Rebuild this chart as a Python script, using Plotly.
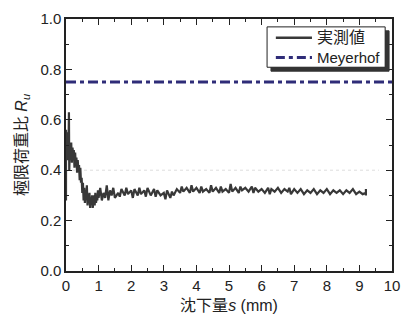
import plotly.graph_objects as go

# measured data: settlement s (mm) and ultimate load ratio R_u
s_early = [0.0, 0.0, 0.02, 0.04, 0.06, 0.08, 0.09, 0.10, 0.12, 0.14, 0.16, 0.18, 0.20, 0.22, 0.24,
           0.26, 0.28, 0.30, 0.32, 0.34, 0.36, 0.38, 0.40, 0.42, 0.44, 0.46, 0.48, 0.50, 0.52, 0.54,
           0.56, 0.58, 0.60, 0.62, 0.64, 0.66, 0.68, 0.70, 0.72, 0.74, 0.76, 0.78, 0.80, 0.82, 0.84,
           0.86, 0.88, 0.90, 0.92, 0.94, 0.96, 0.98]
r_early = [0.28, 0.56, 0.47, 0.55, 0.44, 0.52, 0.63, 0.40, 0.50, 0.45, 0.51, 0.43, 0.49, 0.46, 0.48,
           0.41, 0.47, 0.42, 0.45, 0.39, 0.44, 0.40, 0.42, 0.36, 0.41, 0.35, 0.37, 0.31, 0.35, 0.28,
           0.33, 0.27, 0.31, 0.29, 0.34, 0.26, 0.30, 0.27, 0.31, 0.25, 0.29, 0.27, 0.30, 0.25, 0.28,
           0.30, 0.26, 0.31, 0.27, 0.29, 0.28, 0.32]
s_late = [1.0, 1.05, 1.1, 1.15, 1.2, 1.25, 1.3, 1.35, 1.4, 1.45, 1.5, 1.6, 1.65, 1.7, 1.8, 1.85,
          1.9, 2.0, 2.05, 2.1, 2.2, 2.25, 2.3, 2.4, 2.45, 2.5, 2.6, 2.7, 2.75, 2.8, 2.9, 3.0, 3.05,
          3.1, 3.2, 3.25, 3.3, 3.4, 3.5, 3.55, 3.6, 3.7, 3.8, 3.85, 3.9, 4.0, 4.1, 4.15, 4.2, 4.3,
          4.4, 4.45, 4.5, 4.6, 4.7, 4.75, 4.8, 4.9, 5.0, 5.05, 5.1, 5.2, 5.3, 5.35, 5.4, 5.5, 5.6,
          5.7, 5.75, 5.8, 5.9, 6.0, 6.1, 6.2, 6.25, 6.3, 6.4, 6.5, 6.6, 6.7, 6.8, 6.85, 6.9, 7.0,
          7.1, 7.2, 7.3, 7.4, 7.5, 7.6, 7.7, 7.8, 7.9, 8.0, 8.1, 8.2, 8.3, 8.4, 8.5, 8.6, 8.7,
          8.8, 8.9, 9.0, 9.1, 9.2, 9.2, 9.2]
r_late = [0.29, 0.33, 0.28, 0.31, 0.29, 0.34, 0.28, 0.32, 0.30, 0.33, 0.29, 0.31, 0.295, 0.325,
          0.30, 0.33, 0.305, 0.32, 0.29, 0.325, 0.30, 0.33, 0.305, 0.32, 0.295, 0.33, 0.30, 0.325,
          0.295, 0.32, 0.30, 0.31, 0.285, 0.32, 0.29, 0.315, 0.30, 0.325, 0.31, 0.335, 0.315, 0.33,
          0.31, 0.34, 0.315, 0.33, 0.31, 0.335, 0.315, 0.325, 0.31, 0.34, 0.315, 0.33, 0.31, 0.335,
          0.315, 0.325, 0.31, 0.345, 0.315, 0.33, 0.31, 0.335, 0.32, 0.33, 0.315, 0.335, 0.31,
          0.33, 0.315, 0.325, 0.31, 0.33, 0.305, 0.325, 0.315, 0.33, 0.31, 0.325, 0.315, 0.33,
          0.305, 0.325, 0.31, 0.325, 0.305, 0.32, 0.31, 0.325, 0.305, 0.32, 0.31, 0.325, 0.305,
          0.32, 0.31, 0.32, 0.305, 0.32, 0.31, 0.325, 0.305, 0.315, 0.305, 0.31, 0.325, 0.30]
s_meas = s_early + s_late
r_meas = r_early + r_late

meyerhof_x = [0, 10]
meyerhof_y = [0.75, 0.75]

series_names = ["実測値", "Meyerhof"]
series_colors = ["#383838", "#2f2c78"]
meyerhof_dash = "10px,4px,4px,4px"

x_ticks = [0, 1, 2, 3, 4, 5, 6, 7, 8, 9, 10]
y_ticks = [0.0, 0.2, 0.4, 0.6, 0.8, 1.0]

font_num = "Liberation Sans, Arial, sans-serif"
font_mix = "Liberation Sans, Noto Sans CJK JP, sans-serif"

L, R, T, B = 66, 400, 15, 271  # plot area in pixels


def px(x):
    return (x - L) / (R - L)


def py(y):
    return (B - y) / (B - T)


fig = go.Figure()
fig.add_trace(go.Scatter(x=s_meas, y=r_meas, mode="lines", name=series_names[0],
                         line=dict(color=series_colors[0], width=2.2), showlegend=False))
fig.add_trace(go.Scatter(x=meyerhof_x, y=meyerhof_y, mode="lines", name=series_names[1],
                         line=dict(color=series_colors[1], width=3, dash=meyerhof_dash),
                         showlegend=False))

# faint reference line at 0.4
fig.add_shape(type="line", xref="x", yref="y", x0=0, x1=9.6, y0=0.4, y1=0.4,
              line=dict(color="#dddddd", width=1, dash="dot"), layer="below")

# hand-built legend box with drop shadow
fig.add_shape(type="rect", xref="paper", yref="paper", x0=px(276), x1=px(397), y0=py(68), y1=py(27),
              fillcolor="#333333", line=dict(color="#333333", width=1))
fig.add_shape(type="rect", xref="paper", yref="paper", x0=px(272), x1=px(393), y0=py(64), y1=py(23),
              fillcolor="white", line=dict(color="#222222", width=1))
fig.add_shape(type="line", xref="paper", yref="paper", x0=px(281), x1=px(318), y0=py(34), y1=py(34),
              line=dict(color=series_colors[0], width=2.5))
fig.add_shape(type="line", xref="paper", yref="paper", x0=px(281), x1=px(318), y0=py(54), y1=py(54),
              line=dict(color=series_colors[1], width=3, dash="9px,4px,4px,4px"))
fig.add_annotation(xref="paper", yref="paper", x=px(321), y=py(34), text=series_names[0],
                   showarrow=False, xanchor="left", yanchor="middle",
                   font=dict(family=font_mix, size=16, color="#222222"))
fig.add_annotation(xref="paper", yref="paper", x=px(321), y=py(54), text=series_names[1],
                   showarrow=False, xanchor="left", yanchor="middle",
                   font=dict(family=font_mix, size=15, color="#222222"))

axis_common = dict(showline=True, linecolor="#222222", linewidth=1.5, mirror="ticks",
                   ticks="inside", ticklen=6, tickwidth=1.2, tickcolor="#222222",
                   showgrid=False, zeroline=False,
                   tickfont=dict(family=font_num, size=15, color="#222222"))

fig.update_layout(
    width=410, height=323,
    margin=dict(l=L, r=410 - R, t=T, b=323 - B),
    plot_bgcolor="white", paper_bgcolor="white",
    showlegend=False,
    xaxis=dict(range=[0, 10], tickvals=x_ticks, ticktext=[str(v) for v in x_ticks],
               minor=dict(ticks="inside", ticklen=3, dtick=0.5, tickcolor="#222222"),
               title=dict(text="沈下量<i>s</i> (mm)", standoff=7,
                          font=dict(family=font_mix, size=16, color="#222222")),
               **axis_common),
    yaxis=dict(range=[0, 1.0], tickvals=y_ticks, ticktext=[f"{v:.1f}" for v in y_ticks],
               minor=dict(ticks="inside", ticklen=3, dtick=0.1, tickcolor="#222222"),
               title=dict(text="極限荷重比 <i>R<sub>u</sub></i>", standoff=9,
                          font=dict(family=font_mix, size=16, color="#222222")),
               **axis_common),
)

fig.write_html("out.html")
